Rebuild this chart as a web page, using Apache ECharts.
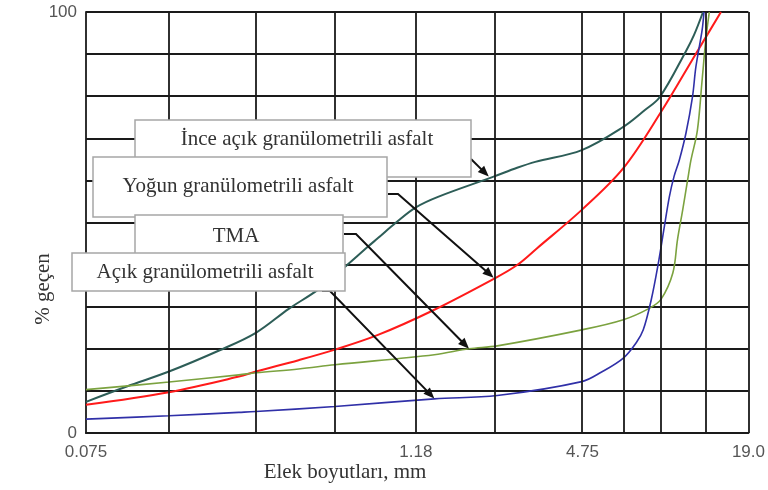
<!DOCTYPE html>
<html>
<head>
<meta charset="utf-8">
<script src="https://cdn.jsdelivr.net/npm/echarts@6/dist/echarts.min.js"></script>
<style>
  html, body { margin: 0; padding: 0; background: #fff; }
  #chart { width: 768px; height: 490px; }
</style>
</head>
<body>
<div id="chart"></div>
<script>
// Sieve openings (mm) that get a vertical grid line
const sieveSizes = [0.15, 0.31, 0.6, 1.18, 2.29, 4.72, 6.68, 9.16, 13.3, 19.0];
// Labelled sieve sizes on the x axis
const xTickValues = [0.075, 1.18, 4.75, 19.0];
const xTickLabels = ['0.075', '1.18', '4.75', '19.0'];
// Only the ends of the percent axis are labelled
const yTickValues = [0, 100];

// Gradation curves: [sieve size mm, % passing]
const inceAcik = [
  [0.075, 7.4], [0.106, 11.1], [0.15, 14.6], [0.228, 19.6], [0.31, 23.8],
  [0.408, 29.5], [0.52, 34.0], [0.643, 39.1], [0.792, 44.3], [0.86, 46.3],
  [1.0, 50.0], [1.18, 53.6], [1.42, 56.1], [2.26, 60.9], [2.75, 63.0],
  [3.2, 64.4], [4.72, 67.2], [6.68, 72.7], [8.0, 76.7], [9.06, 79.8],
  [11.27, 90.7], [12.05, 94.5], [13.0, 100]
];
const yogun = [
  [0.075, 6.7], [0.15, 9.7], [0.269, 13.4], [0.31, 14.6], [0.443, 17.3],
  [0.6, 19.8], [0.86, 23.3], [1.36, 29.1], [2.29, 36.8], [2.75, 39.9],
  [3.25, 43.9], [4.72, 53.0], [6.68, 62.9], [9.16, 76.3], [12.25, 90.1],
  [15.1, 100]
];
const tma = [
  [0.075, 10.3], [0.15, 12.1], [0.269, 13.8], [0.31, 14.3], [0.443, 15.2],
  [0.6, 16.2], [1.377, 18.6], [1.84, 20.0], [2.33, 20.7], [4.72, 24.5],
  [6.68, 26.9], [8.29, 29.6], [9.16, 31.8], [10.1, 38.0], [10.5, 45.9],
  [10.97, 53.0], [11.43, 60.1], [11.75, 64.8], [12.4, 71.9], [12.9, 83.8],
  [13.3, 93.3], [13.7, 100]
];
const acik = [
  [0.075, 3.3], [0.15, 4.1], [0.269, 4.9], [0.31, 5.1], [0.6, 6.3],
  [1.377, 8.1], [2.33, 8.9], [4.72, 12.2], [5.57, 14.5], [6.68, 17.8],
  [7.45, 21.5], [7.89, 24.5], [8.43, 31.6], [8.93, 40.0], [9.41, 49.0],
  [9.81, 56.1], [10.2, 60.9], [10.66, 64.8], [11.27, 71.2], [11.9, 79.8],
  [12.25, 87.0], [12.9, 95.7], [13.1, 100]
];

// Callout boxes and the curve points their arrows point at
const callouts = [
  { text: 'İnce açık granülometrili asfalt', box: [135, 120, 336, 57], textPos: [307, 139],
    start: [[471, 159]], target: [2.17, 60.9] },
  { text: 'Yoğun granülometrili asfalt', box: [93, 157, 294, 60], textPos: [238, 186],
    start: [[388, 194], [398, 194]], target: [2.26, 36.9] },
  { text: 'TMA', box: [135, 215, 208, 39], textPos: [236, 236],
    start: [[344, 234], [356, 234]], target: [1.84, 20.0] },
  { text: 'Açık granülometrili asfalt', box: [72, 253, 273, 38], textPos: [205, 272],
    start: [[322, 291], [330, 291]], target: [1.377, 8.2] }
];

const GRID_COLOR = '#1a1a1a';
const SERIF = '"Liberation Serif", "Times New Roman", serif';
const SANS = '"Liberation Sans", Arial, sans-serif';

function xLabel(v) {
  let best = 0;
  for (let i = 1; i < xTickValues.length; i++) {
    if (Math.abs(Math.log(v / xTickValues[i])) < Math.abs(Math.log(v / xTickValues[best]))) best = i;
  }
  return xTickLabels[best];
}

function curve(name, data, color, width) {
  return {
    name, type: 'line', data, z: 3,
    showSymbol: false, symbol: 'none',
    smooth: 0.35,
    lineStyle: { color, width }
  };
}

const chart = echarts.init(document.getElementById('chart'), null, { renderer: 'canvas' });

chart.setOption({
  animation: false,
  backgroundColor: '#fff',
  grid: { left: 86, right: 15, top: 12, bottom: 57, containLabel: false },
  xAxis: {
    type: 'log', logBase: 10, min: 0.075, max: 19,
    axisLine: { show: true, lineStyle: { color: GRID_COLOR, width: 1.8 } },
    axisTick: { show: false },
    splitLine: { show: false },
    minorSplitLine: { show: false },
    axisLabel: {
      customValues: xTickValues,
      formatter: xLabel,
      margin: 11,
      color: '#555', fontFamily: SANS, fontSize: 17
    }
  },
  yAxis: {
    type: 'value', min: 0, max: 100, interval: 10,
    axisLine: { show: true, lineStyle: { color: GRID_COLOR, width: 1.8 } },
    axisTick: { show: false },
    splitLine: { show: true, lineStyle: { color: GRID_COLOR, width: 1.8 } },
    axisLabel: {
      formatter: v => (yTickValues.indexOf(v) >= 0 ? String(v) : ''),
      margin: 9,
      color: '#555', fontFamily: SANS, fontSize: 17
    }
  },
  series: [
    {
      name: 'sieves', type: 'line', data: [], z: 1, silent: true,
      markLine: {
        silent: true, symbol: ['none', 'none'], label: { show: false },
        lineStyle: { color: GRID_COLOR, width: 1.8, type: 'solid' },
        emphasis: { disabled: true },
        data: sieveSizes.map(v => ({ xAxis: v }))
      }
    },
    curve('İnce açık granülometrili asfalt', inceAcik, '#2d5d57', 2),
    curve('Yoğun granülometrili asfalt', yogun, '#ff1a1a', 2),
    curve('TMA', tma, '#7ba23f', 1.6),
    curve('Açık granülometrili asfalt', acik, '#3030a8', 1.6)
  ]
});

// Callouts: boxes with text, arrows ending at points on the curves
const graphics = [
  {
    type: 'text', x: 43, y: 289, rotation: Math.PI / 2, z: 20,
    style: { text: '% geçen', font: '21px ' + SERIF, fill: '#333',
             textAlign: 'center', textVerticalAlign: 'middle' }
  },
  {
    type: 'text', x: 345, y: 472, z: 20,
    style: { text: 'Elek boyutları, mm', font: '21px ' + SERIF, fill: '#333',
             textAlign: 'center', textVerticalAlign: 'middle' }
  }
];

callouts.forEach((c, i) => {
  const tip = chart.convertToPixel({ gridIndex: 0 }, c.target);
  const pts = c.start.concat([tip]);
  const prev = pts[pts.length - 2];
  const ang = Math.atan2(tip[1] - prev[1], tip[0] - prev[0]);
  const len = 11, half = 4.5;
  const bx = tip[0] - len * Math.cos(ang), by = tip[1] - len * Math.sin(ang);
  const head = [
    tip,
    [bx + half * Math.sin(ang), by - half * Math.cos(ang)],
    [bx - half * Math.sin(ang), by + half * Math.cos(ang)]
  ];
  const lineEnd = [tip[0] - 6 * Math.cos(ang), tip[1] - 6 * Math.sin(ang)];
  graphics.push({
    type: 'polyline', z: 12 + i * 2,
    shape: { points: c.start.concat([lineEnd]) },
    style: { stroke: '#111', lineWidth: 2, fill: null }
  });
  graphics.push({
    type: 'polygon', z: 12 + i * 2,
    shape: { points: head },
    style: { fill: '#111' }
  });
  graphics.push({
    type: 'rect', z: 13 + i * 2,
    shape: { x: c.box[0], y: c.box[1], width: c.box[2], height: c.box[3] },
    style: { fill: '#fff', stroke: '#a6a6a6', lineWidth: 1.5 }
  });
  graphics.push({
    type: 'text', z: 13 + i * 2,
    x: c.textPos[0], y: c.textPos[1],
    style: { text: c.text, font: '21px ' + SERIF, fill: '#333',
             textAlign: 'center', textVerticalAlign: 'middle' }
  });
});

chart.setOption({ graphic: graphics });
</script>
</body>
</html>
